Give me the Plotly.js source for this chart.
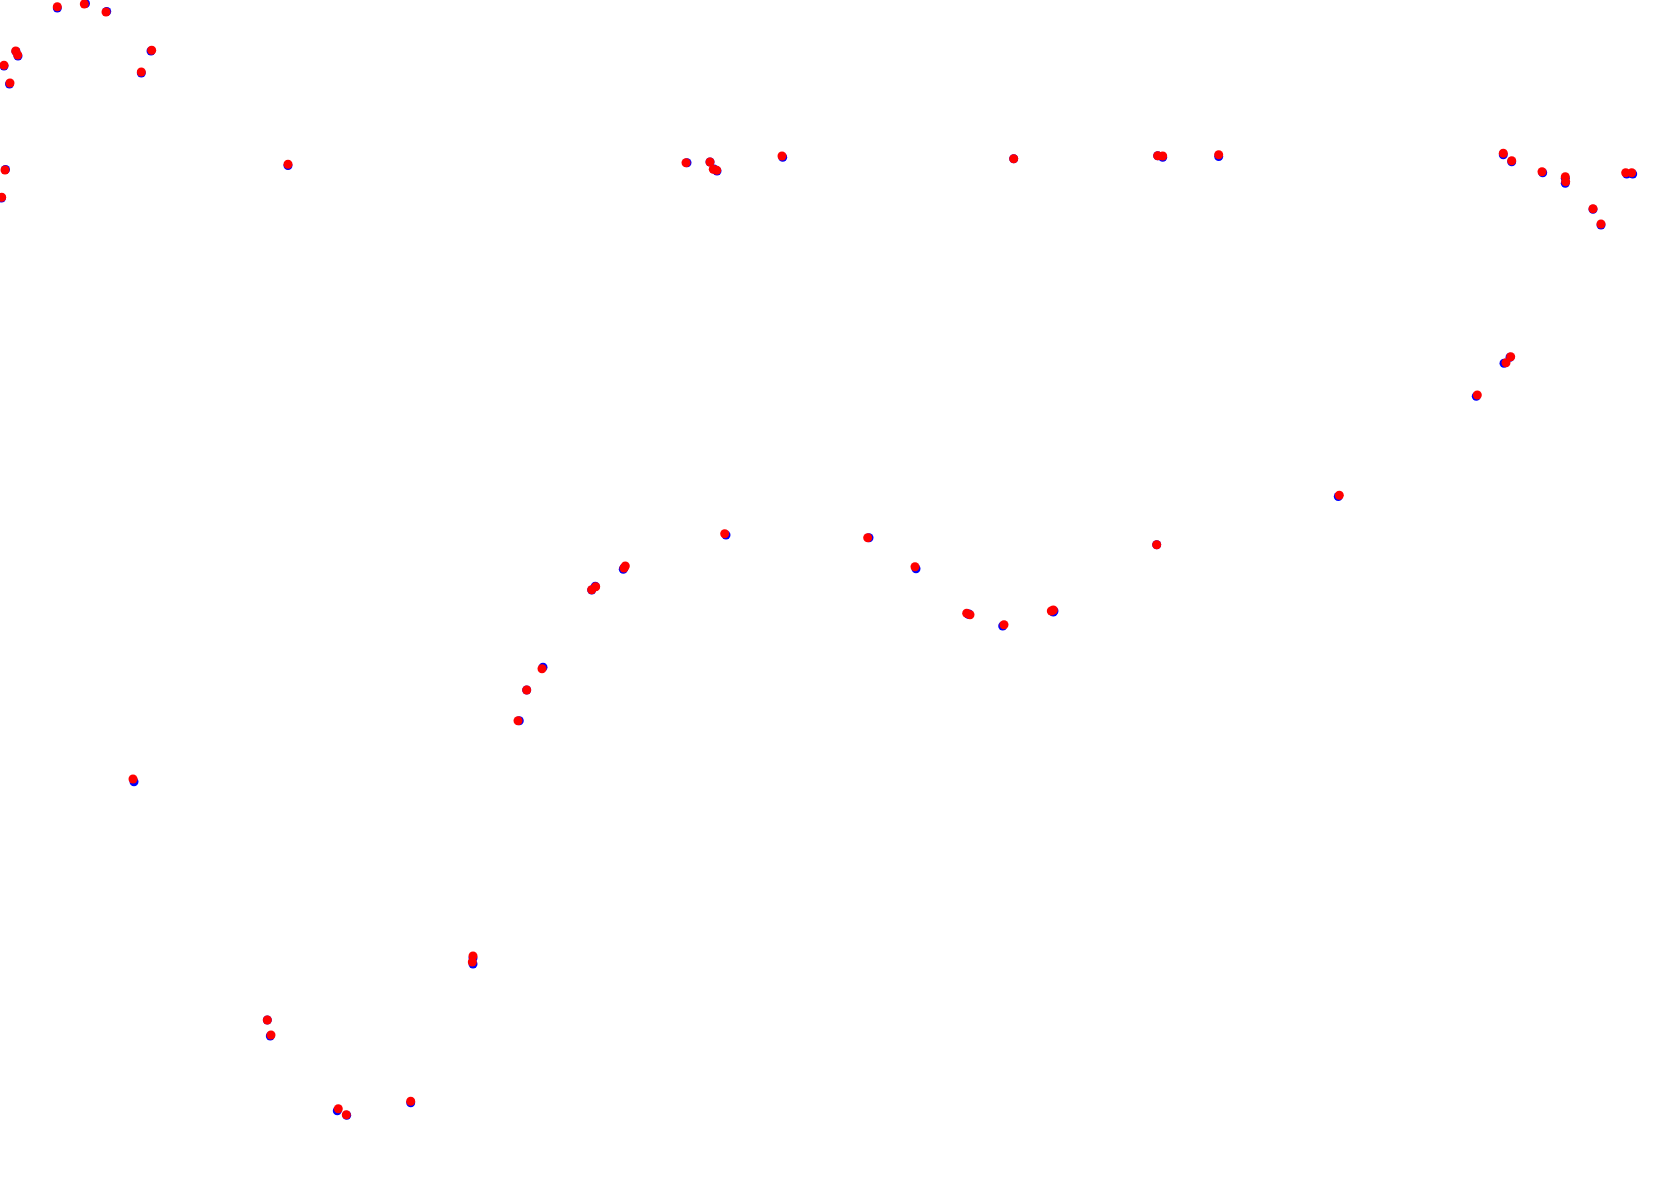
<!DOCTYPE html>
<html>
<head>
<meta charset="utf-8">
<script src="https://cdn.plot.ly/plotly-3.0.1.min.js"></script>
<style>html,body{margin:0;padding:0;background:#fff;}#chart{width:1680px;height:1196px;}</style>
</head>
<body>
<div id="chart"></div>
<script>
// Point positions (plot units = pixels, y downward)
const redX = [57.3,84.3,106,15.7,17.7,4,10,151.7,141.3,5,1.7,288,686,710,713.3,716.7,782,1013.7,1157.7,1162.7,1218.7,1503.3,1511.7,1542,1565.3,1565.7,1625.7,1631.7,1593,1601,1510.7,1506,1477.3,1339.3,867.7,915,1156.7,724.7,625.3,624,595.7,591.7,966.7,970,1004,1053.3,1051.3,542,526.7,518,133,473,472.3,267.3,271,338.3,346.3,410.7];
const redY = [6.7,4,12,51,55,65.3,83,50.3,72,170,197.3,164.3,162.7,162,169.3,170.3,156,158.7,155.7,156,154.7,153.3,160.7,171.7,176.7,181.7,172.7,172.7,208.7,224,356.7,362.7,395,495.3,537.7,566.7,544.7,533.7,566,568,586.7,589.7,613.3,614.7,624.7,610,611,668.7,690,720.7,779,956,962,1020,1035,1108.7,1114.7,1101.3];
const blueX = [57.3,85.5,106.7,16,18,4,9.5,151,141.3,5.5,1.5,288,687,710,714,717,782.7,1013.7,1157.7,1162.7,1218.7,1503.3,1511.7,1542.7,1565.3,1565.3,1626.7,1632.7,1593,1601,1510,1504,1476.3,1338.3,869,916,1156.7,726,623.3,624,595.3,591.7,968.3,969,1002.7,1053.3,1054,543,526.7,519.3,134,473,473,267.3,270.3,337.3,346.7,410.7];
const blueY = [8,3.5,11.5,51.5,56,66,84,51,73,169.5,198,165.5,162.7,162,169,171,157.3,158.7,155.7,157.3,156.5,154.7,161.7,172.7,178.3,183.3,174,174,209.3,225,357.3,363.3,396.3,496.5,537.7,568.7,544.7,535,569.3,568,586.3,590,614.3,614,626,612,611,667.3,690,720.7,781.7,958,964,1020,1036,1110.7,1115.3,1102.7];

const traces = [
  {x: blueX, y: blueY, type: 'scatter', mode: 'markers', name: 'blue',
   marker: {color: '#0000ff', size: 9, line: {width: 0}}, hoverinfo: 'skip'},
  {x: redX, y: redY, type: 'scatter', mode: 'markers', name: 'red',
   marker: {color: '#ff0000', size: 9, line: {width: 0}}, hoverinfo: 'skip'}
];
const layout = {
  width: 1680, height: 1196,
  margin: {l: 0, r: 0, t: 0, b: 0, pad: 0},
  paper_bgcolor: '#ffffff', plot_bgcolor: '#ffffff',
  showlegend: false,
  xaxis: {range: [0, 1680], visible: false, fixedrange: true},
  yaxis: {range: [1196, 0], visible: false, fixedrange: true}
};
Plotly.newPlot('chart', traces, layout, {displayModeBar: false, staticPlot: true});
</script>
</body>
</html>
